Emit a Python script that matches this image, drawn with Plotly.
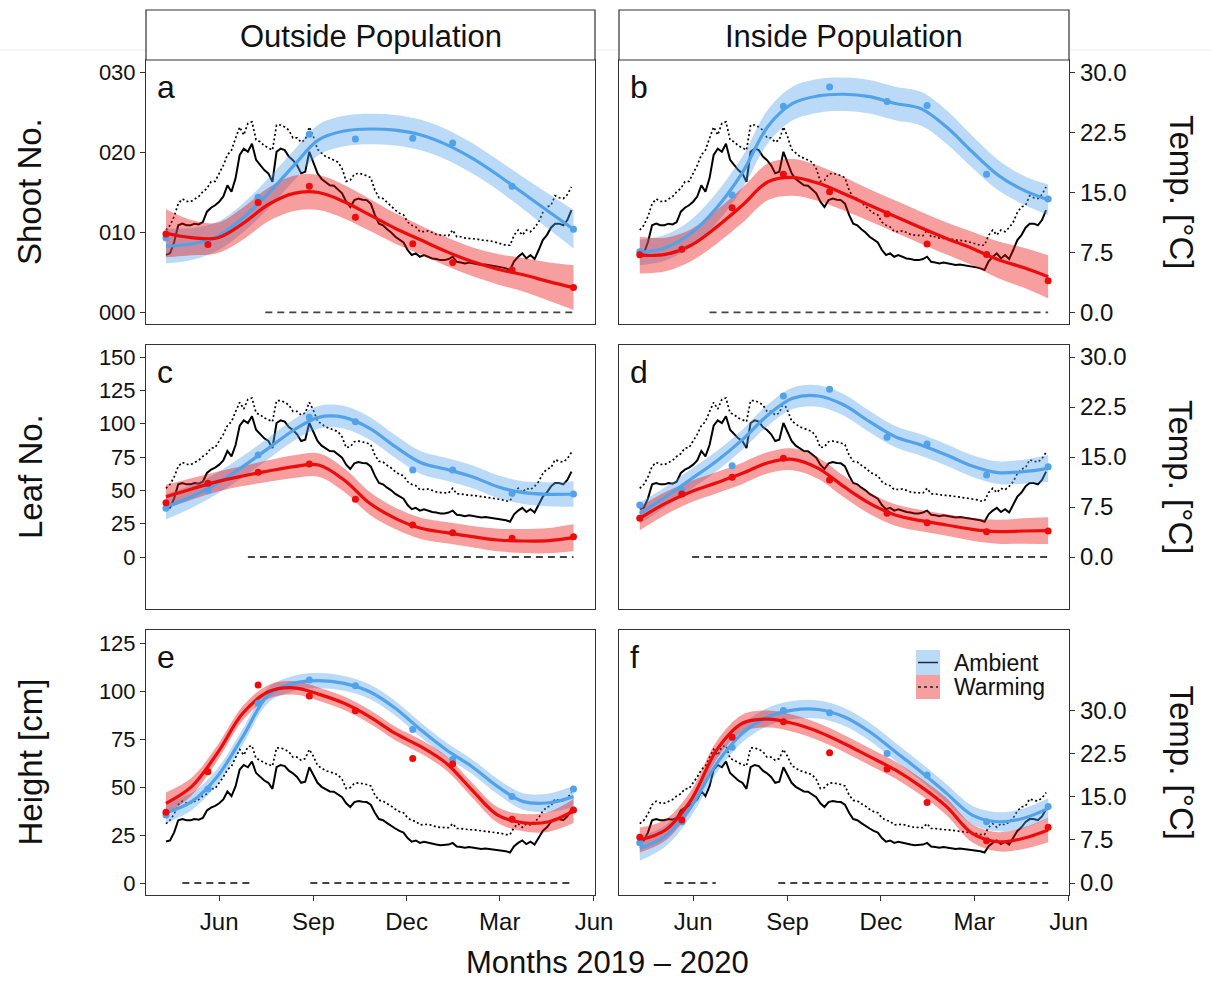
import pandas as pd
import plotly.graph_objects as go

FIG_W, FIG_H = 1212, 983
FONT = "Liberation Sans, Arial, Helvetica, sans-serif"

# ---------------------------------------------------------------- data
survey_dates = ["2019-04-10", "2019-05-21", "2019-07-09", "2019-08-28", "2019-10-12",
                "2019-12-07", "2020-01-15", "2020-03-13", "2020-05-12"]

fit_dates = ["2019-04-10", "2019-05-05", "2019-05-30", "2019-06-24", "2019-07-19",
             "2019-08-13", "2019-09-06", "2019-10-01", "2019-10-26", "2019-11-20",
             "2019-12-15", "2020-01-09", "2020-02-03", "2020-02-28", "2020-03-24",
             "2020-04-18", "2020-05-12"]

# daily mean air temperature, one value every 4 days from 2019-04-10 (°C)
temp_start = "2019-04-10"
temp_step_days = 4
ambient_temp = [7.2, 7.4, 8.8, 10.9, 11.1, 10.9, 10.9, 11.1, 11.0, 11.3,
                12.6, 13.1, 13.4, 13.85, 14.5, 15.9, 15.1, 16.8, 19.7, 20.5,
                20.1, 21.1, 19.1, 18.4, 17.8, 17.4, 16.35, 20.1, 20.5, 20.3,
                19.5, 19.05, 18.4, 17.4, 17.6, 20.1, 18.85, 17.4, 16.7, 16.35,
                15.9, 15.85, 15.4, 14.9, 13.85, 13.2, 14.05, 14.25, 14.1, 14.05,
                13.6, 12.2, 11.1, 10.9, 10.4, 10.0, 9.46, 9.05, 8.75, 7.8,
                7.18, 7.38, 6.96, 7.17, 6.96, 6.75, 6.67, 6.54, 6.54, 6.67,
                6.96, 6.33, 6.25, 6.12, 6.25, 6.12, 6.0, 5.92, 6.0, 5.92,
                5.84, 5.7, 5.63, 5.5, 5.3, 6.4, 6.96, 7.38, 6.75, 7.17,
                6.67, 7.8, 9.05, 9.67, 10.6, 11.1, 11.1, 10.9, 11.55, 12.8]
warming_temp = [10.3, 10.9, 12.0, 13.6, 14.2, 13.9, 13.85, 14.2, 14.5, 15.1,
                15.5, 16.35, 16.4, 17.4, 18.4, 19.7, 20.3, 21.8, 23.2, 22.2,
                23.65, 23.85, 21.6, 21.35, 20.85, 20.6, 20.3, 23.45, 23.45, 23.2,
                22.8, 21.85, 21.85, 21.3, 21.6, 23.2, 22.0, 20.4, 19.9, 19.5,
                19.3, 19.0, 18.8, 18.0, 16.4, 16.55, 17.3, 17.4, 17.3, 17.1,
                16.85, 15.3, 14.35, 14.25, 13.75, 13.35, 12.8, 12.4, 12.2, 11.3,
                10.9, 10.7, 10.1, 10.1, 10.2, 10.0, 9.75, 9.67, 9.67, 9.6,
                10.3, 9.46, 9.46, 9.3, 9.25, 9.25, 9.17, 9.05, 9.05, 8.96,
                8.84, 8.7, 8.6, 8.4, 8.4, 9.67, 10.3, 9.67, 10.3, 10.1,
                10.6, 11.3, 12.5, 13.2, 13.4, 14.6, 14.35, 14.25, 14.75, 15.7]

# (a) shoot number, outside population
a_amb_fit = [8.3, 8.55, 9.5, 11.8, 14.9, 18.4, 21.6, 22.7, 22.95, 22.8, 22.2, 21.0, 19.3, 17.2, 14.9, 12.6, 10.4]
a_amb_se = [2.2, 2.0, 1.8, 1.8, 1.9, 1.9, 1.9, 1.9, 1.9, 1.9, 1.9, 1.9, 1.9, 1.9, 2.0, 2.2, 2.4]
a_warm_fit = [9.9, 9.35, 9.3, 11.1, 13.5, 14.9, 15.0, 13.85, 12.2, 10.5, 9.05, 7.6, 6.35, 5.4, 4.7, 3.85, 3.1]
a_warm_se = [3.0, 2.2, 1.9, 2.0, 2.1, 2.2, 2.2, 2.1, 2.0, 1.9, 1.8, 1.8, 1.8, 1.9, 2.1, 2.4, 2.8]
a_amb_obs = [9.3, 8.6, 14.4, 22.3, 21.7, 21.8, 21.2, 15.8, 10.4]
a_warm_obs = [9.8, 8.5, 13.75, 15.8, 11.9, 8.6, 6.25, 5.3, 3.1]

# (b) shoot number, inside population
b_amb_fit = [7.5, 8.1, 9.9, 13.1, 17.5, 23.3, 26.15, 27.1, 27.3, 27.0, 26.15, 25.5, 23.2, 20.1, 17.2, 15.3, 14.1]
b_amb_se = [1.6, 1.6, 1.7, 1.9, 2.0, 2.1, 2.1, 2.1, 2.1, 2.1, 2.1, 2.1, 2.1, 2.0, 1.9, 1.8, 1.9]
b_warm_fit = [7.15, 7.25, 8.4, 10.7, 13.4, 16.35, 16.9, 16.15, 14.85, 13.4, 12.0, 10.6, 9.25, 8.0, 6.6, 5.6, 4.45]
b_warm_se = [2.3, 2.1, 2.0, 2.1, 2.2, 2.3, 2.3, 2.2, 2.1, 2.0, 2.0, 2.0, 2.0, 2.1, 2.3, 2.5, 2.7]
b_amb_obs = [7.6, 7.9, 14.7, 25.8, 28.2, 26.4, 25.9, 17.3, 14.2]
b_warm_obs = [7.2, 7.9, 13.1, 17.3, 15.1, 12.3, 8.55, 7.25, 3.95]

# (c) leaf number, outside population
c_amb_fit = [37.75, 45.25, 55.25, 67.75, 81.5, 95.25, 104.75, 104.75, 96.5, 82.75, 70.75, 65.75, 60.25, 52.75, 48.25, 47.0, 47.25]
c_amb_se = [9.5, 8.5, 8.0, 8.0, 8.0, 8.0, 8.5, 8.5, 8.5, 8.5, 8.5, 8.5, 8.5, 8.5, 8.5, 9.0, 9.5]
c_warm_fit = [45.25, 51.0, 56.5, 60.75, 64.5, 67.75, 69.0, 57.75, 40.25, 29.0, 21.5, 18.25, 15.25, 12.75, 12.0, 12.25, 14.5]
c_warm_se = [9.0, 8.0, 7.5, 7.5, 8.0, 8.5, 8.75, 8.75, 8.5, 8.0, 8.0, 8.0, 8.0, 8.5, 9.0, 9.5, 10.0]
c_amb_obs = [36.5, 50.0, 76.5, 104.75, 101.5, 65.25, 65.25, 47.75, 47.25]
c_warm_obs = [40.75, 55.25, 63.5, 69.75, 43.25, 24.0, 18.25, 14.0, 15.25]

# (d) leaf number, inside population
d_amb_fit = [32.75, 45.0, 58.5, 72.0, 88.0, 106.5, 119.0, 120.75, 114.0, 101.5, 90.25, 84.0, 76.5, 68.25, 63.25, 64.0, 66.5]
d_amb_se = [8.0, 7.5, 7.5, 7.5, 7.5, 8.0, 8.0, 8.0, 8.0, 8.0, 8.0, 8.0, 8.0, 8.0, 8.5, 9.0, 10.0]
d_warm_fit = [29.0, 40.25, 49.0, 55.75, 62.75, 70.75, 73.25, 66.5, 52.75, 40.25, 31.5, 27.25, 24.0, 20.75, 19.0, 19.5, 19.75]
d_warm_se = [9.0, 8.5, 8.0, 8.0, 8.0, 8.0, 8.25, 8.0, 8.0, 8.0, 8.0, 8.0, 8.0, 8.5, 9.0, 9.5, 10.0]
d_amb_obs = [39.0, 50.0, 68.5, 120.75, 125.75, 89.75, 84.75, 61.5, 67.75]
d_warm_obs = [29.0, 47.25, 59.75, 74.0, 57.75, 32.75, 25.75, 19.0, 19.5]

# (e) plant height, outside population
e_amb_fit = [36.6, 42.4, 55.4, 76.2, 97.9, 104.0, 105.4, 104.0, 99.6, 91.0, 79.7, 69.3, 60.6, 50.2, 42.4, 41.8, 45.0]
e_amb_se = [5.5, 4.5, 4.0, 4.0, 4.0, 4.0, 4.0, 3.9, 3.8, 3.8, 3.8, 3.8, 3.8, 4.0, 4.3, 4.8, 5.6]
e_warm_fit = [41.5, 50.2, 67.5, 88.4, 99.6, 101.7, 98.4, 93.6, 86.6, 77.9, 71.0, 62.3, 48.4, 35.4, 31.4, 31.9, 37.5]
e_warm_se = [5.6, 4.6, 4.0, 3.8, 3.6, 3.5, 3.5, 3.5, 3.5, 3.5, 3.6, 3.7, 3.8, 4.0, 4.5, 5.2, 6.3]
e_amb_obs = [35.4, 49.0, 93.6, 105.7, 102.8, 80.0, 64.4, 45.0, 49.0]
e_warm_obs = [36.8, 58.0, 103.1, 97.4, 89.7, 64.9, 62.0, 33.2, 38.0]

# (f) plant height, inside population
f_amb_fit = [18.05, 24.5, 39.8, 62.3, 78.0, 86.6, 90.1, 90.4, 86.6, 78.8, 68.4, 58.0, 46.7, 35.4, 31.9, 33.7, 38.9]
f_amb_se = [6.4, 5.5, 5.0, 4.8, 4.7, 4.7, 4.7, 4.7, 4.7, 4.7, 4.7, 4.7, 4.7, 4.8, 5.0, 5.1, 5.2]
f_warm_fit = [22.4, 27.6, 43.2, 69.3, 83.2, 85.4, 83.2, 78.8, 72.7, 65.8, 58.9, 50.2, 39.8, 25.9, 21.5, 23.3, 27.6]
f_warm_se = [6.5, 5.5, 5.0, 4.7, 4.5, 4.4, 4.4, 4.4, 4.4, 4.4, 4.4, 4.4, 4.5, 4.7, 5.0, 5.6, 6.4]
f_amb_obs = [21.0, 31.9, 70.7, 89.8, 88.7, 67.5, 56.2, 31.9, 39.8]
f_warm_obs = [23.8, 32.8, 75.9, 84.0, 67.9, 59.4, 42.0, 22.0, 29.0]

# periods with a significant treatment difference (drawn at y = 0)
a_sig = [("2019-07-16", "2020-05-12")]
b_sig = [("2019-06-17", "2020-05-12")]
c_sig = [("2019-06-29", "2020-05-12")]
d_sig = [("2019-05-31", "2020-05-12")]
e_sig = [("2019-04-26", "2019-07-04"), ("2019-08-29", "2020-05-10")]
f_sig = [("2019-05-04", "2019-06-23"), ("2019-08-23", "2020-05-12")]

panel_letters = ["a", "b", "c", "d", "e", "f"]
column_titles = ["Outside Population", "Inside Population"]
row_titles = ["Shoot No.", "Leaf No.", "Height [cm]"]
temp_title = "Temp. [°C]"
x_title = "Months 2019 \u2013 2020"
legend_labels = ["Ambient", "Warming"]

month_ticks = ["2019-06-01", "2019-09-01", "2019-12-01", "2020-03-01", "2020-06-01"]
month_labels = ["Jun", "Sep", "Dec", "Mar", "Jun"]
shoot_ticks = [0, 10, 20, 30]
shoot_labels = ["000", "010", "020", "030"]
leaf_ticks = [0, 25, 50, 75, 100, 125, 150]
height_ticks = [0, 25, 50, 75, 100, 125]
temp_ticks = [0, 7.5, 15, 22.5, 30]
temp_labels = ["0.0", "7.5", "15.0", "22.5", "30.0"]

# ---------------------------------------------------------------- styling
AMB_COLOR = "rgb(82,162,234)"
AMB_FILL = "rgba(82,162,234,0.40)"
WARM_COLOR = "rgb(236,12,12)"
WARM_FILL = "rgba(236,12,12,0.40)"
FRAME = "#333333"
TEXT = "#111111"

col_px = [(146, 595), (619, 1069)]
row_px = [(60, 324), (345, 609), (630, 895)]
row_growth_range = [(-1.46, 31.59), (-39.0, 159.0), (-6.25, 131.8)]
row_temp_scale = [1.0, 5.0, 3.0]          # growth-axis units per °C
col_date_range = [("2019-03-21 12:00", "2020-06-02 00:00"),
                  ("2019-03-20 18:00", "2020-06-01 08:00")]
row_ticks = [(shoot_ticks, shoot_labels),
             (leaf_ticks, [str(v) for v in leaf_ticks]),
             (height_ticks, [str(v) for v in height_ticks])]


def fx(px):
    return px / FIG_W


def fy(py):
    return 1 - py / FIG_H


temp_dates = pd.date_range(temp_start, periods=len(ambient_temp), freq=f"{temp_step_days}D")

panels = [
    dict(amb_fit=a_amb_fit, amb_se=a_amb_se, warm_fit=a_warm_fit, warm_se=a_warm_se,
         amb_obs=a_amb_obs, warm_obs=a_warm_obs, sig=a_sig),
    dict(amb_fit=b_amb_fit, amb_se=b_amb_se, warm_fit=b_warm_fit, warm_se=b_warm_se,
         amb_obs=b_amb_obs, warm_obs=b_warm_obs, sig=b_sig),
    dict(amb_fit=c_amb_fit, amb_se=c_amb_se, warm_fit=c_warm_fit, warm_se=c_warm_se,
         amb_obs=c_amb_obs, warm_obs=c_warm_obs, sig=c_sig),
    dict(amb_fit=d_amb_fit, amb_se=d_amb_se, warm_fit=d_warm_fit, warm_se=d_warm_se,
         amb_obs=d_amb_obs, warm_obs=d_warm_obs, sig=d_sig),
    dict(amb_fit=e_amb_fit, amb_se=e_amb_se, warm_fit=e_warm_fit, warm_se=e_warm_se,
         amb_obs=e_amb_obs, warm_obs=e_warm_obs, sig=e_sig),
    dict(amb_fit=f_amb_fit, amb_se=f_amb_se, warm_fit=f_warm_fit, warm_se=f_warm_se,
         amb_obs=f_amb_obs, warm_obs=f_warm_obs, sig=f_sig),
]

fig = go.Figure()
layout = dict(
    width=FIG_W, height=FIG_H,
    margin=dict(l=0, r=0, t=0, b=0, pad=0, autoexpand=False),
    paper_bgcolor="white", plot_bgcolor="white",
    showlegend=False,
    font=dict(family=FONT, color=TEXT),
    shapes=[], annotations=[],
)

tick_style = dict(ticks="outside", ticklen=5, tickwidth=1, tickcolor=FRAME,
                  tickfont=dict(family=FONT, size=22, color=TEXT))

for i, p in enumerate(panels):
    r, c = divmod(i, 2)
    n = i + 1
    xs, ys_t, ys_g = f"x{n}", f"y{n}", f"y{n + 6}"
    x0, x1 = col_px[c]
    y0, y1 = row_px[r]
    g_lo, g_hi = row_growth_range[r]
    k = row_temp_scale[r]

    # x axis
    xa = dict(domain=[fx(x0), fx(x1)], anchor=ys_t, type="date",
              range=list(col_date_range[c]), showgrid=False, zeroline=False,
              showline=True, mirror=True, linecolor=FRAME, linewidth=1.2)
    if r == 2:
        xa.update(tick_style, tickvals=month_ticks, ticktext=month_labels,
                  tickfont=dict(family=FONT, size=24, color=TEXT))
    else:
        xa.update(ticks="", showticklabels=False)
    layout["xaxis" if n == 1 else f"xaxis{n}"] = xa

    # base axis carries the temperature scale (right side)
    ya = dict(domain=[fy(y1), fy(y0)], anchor=xs, range=[g_lo / k, g_hi / k],
              showgrid=False, zeroline=False, showline=True, mirror=True,
              linecolor=FRAME, linewidth=1.2, side="right")
    if c == 1:
        ya.update(tick_style, tickvals=temp_ticks, ticktext=temp_labels,
                  tickfont=dict(family=FONT, size=24, color=TEXT))
    else:
        ya.update(ticks="", showticklabels=False)
    layout["yaxis" if n == 1 else f"yaxis{n}"] = ya

    # overlay axis carries the growth variable (left side)
    yg = dict(overlaying=ys_t, anchor=xs, side="left", range=[g_lo, g_hi],
              showgrid=False, zeroline=False, showline=False)
    if c == 0:
        tv, tt = row_ticks[r]
        yg.update(tick_style, tickvals=tv, ticktext=tt)
    else:
        yg.update(ticks="", showticklabels=False)
    layout[f"yaxis{n + 6}"] = yg

    # temperature records
    fig.add_trace(go.Scatter(x=temp_dates, y=ambient_temp, mode="lines",
                             line=dict(color="black", width=2.0),
                             xaxis=xs, yaxis=ys_t, hoverinfo="skip"))
    fig.add_trace(go.Scatter(x=temp_dates, y=warming_temp, mode="lines",
                             line=dict(color="black", width=1.7, dash="2px,2.5px"),
                             xaxis=xs, yaxis=ys_t, hoverinfo="skip"))

    # confidence ribbons
    for fit, se, fill in ((p["amb_fit"], p["amb_se"], AMB_FILL),
                          (p["warm_fit"], p["warm_se"], WARM_FILL)):
        lower = [v - s for v, s in zip(fit, se)]
        upper = [v + s for v, s in zip(fit, se)]
        fig.add_trace(go.Scatter(x=fit_dates, y=lower, mode="lines",
                                 line=dict(width=0, shape="spline", color=fill),
                                 xaxis=xs, yaxis=ys_g, hoverinfo="skip"))
        fig.add_trace(go.Scatter(x=fit_dates, y=upper, mode="lines", fill="tonexty",
                                 fillcolor=fill,
                                 line=dict(width=0, shape="spline", color=fill),
                                 xaxis=xs, yaxis=ys_g, hoverinfo="skip"))

    # significance periods
    for s0, s1 in p["sig"]:
        fig.add_trace(go.Scatter(x=[s0, s1], y=[0, 0], mode="lines",
                                 line=dict(color="#444444", width=1.8, dash="7px,5px"),
                                 xaxis=xs, yaxis=ys_g, hoverinfo="skip"))

    # fitted curves and observed means
    for fit, col in ((p["amb_fit"], AMB_COLOR), (p["warm_fit"], WARM_COLOR)):
        fig.add_trace(go.Scatter(x=fit_dates, y=fit, mode="lines",
                                 line=dict(color=col, width=3.2, shape="spline"),
                                 xaxis=xs, yaxis=ys_g, hoverinfo="skip"))
    for obs, col in ((p["amb_obs"], AMB_COLOR), (p["warm_obs"], WARM_COLOR)):
        fig.add_trace(go.Scatter(x=survey_dates, y=obs, mode="markers",
                                 marker=dict(color=col, size=7),
                                 xaxis=xs, yaxis=ys_g, hoverinfo="skip"))

    # panel letter
    layout["annotations"].append(dict(
        text=panel_letters[i], xref="paper", yref="paper",
        x=fx(x0 + 9), y=fy(y0 + 27), xanchor="left", yanchor="middle",
        showarrow=False, font=dict(family=FONT, size=32, color=TEXT)))

# faint page rule behind the strips
layout["shapes"].append(dict(type="line", xref="paper", yref="paper",
                             x0=0, x1=1, y0=fy(50), y1=fy(50),
                             line=dict(color="#eeeeee", width=1), layer="below"))

# column strips
for c, title in enumerate(column_titles):
    x0, x1 = col_px[c]
    layout["shapes"].append(dict(type="rect", xref="paper", yref="paper",
                                 x0=fx(x0), x1=fx(x1), y0=fy(60), y1=fy(10),
                                 line=dict(color=FRAME, width=1.2), fillcolor="white"))
    layout["annotations"].append(dict(
        text=title, xref="paper", yref="paper", x=fx((x0 + x1) / 2), y=fy(36),
        xanchor="center", yanchor="middle", showarrow=False,
        font=dict(family=FONT, size=31, color=TEXT)))

# axis titles
for r, title in enumerate(row_titles):
    yc = (row_px[r][0] + row_px[r][1]) / 2
    layout["annotations"].append(dict(
        text=title, xref="paper", yref="paper", x=fx(30), y=fy(yc),
        xanchor="center", yanchor="middle", textangle=-90, showarrow=False,
        font=dict(family=FONT, size=33, color=TEXT)))
    layout["annotations"].append(dict(
        text=temp_title, xref="paper", yref="paper", x=fx(1181), y=fy(yc),
        xanchor="center", yanchor="middle", textangle=90, showarrow=False,
        font=dict(family=FONT, size=33, color=TEXT)))

layout["annotations"].append(dict(
    text=x_title, xref="paper", yref="paper", x=fx(607), y=fy(982),
    xanchor="center", yanchor="bottom", showarrow=False,
    font=dict(family=FONT, size=31, color=TEXT)))

# legend inside panel f
key_x0, key_x1 = 916, 940
for label, fill, dash, ky0, ky1 in (
        (legend_labels[0], AMB_FILL, "solid", 650, 675),
        (legend_labels[1], WARM_FILL, "dot", 675, 699)):
    layout["shapes"].append(dict(type="rect", xref="paper", yref="paper",
                                 x0=fx(key_x0), x1=fx(key_x1), y0=fy(ky1), y1=fy(ky0),
                                 line=dict(width=0), fillcolor=fill))
    ym = (ky0 + ky1) / 2
    layout["shapes"].append(dict(type="line", xref="paper", yref="paper",
                                 x0=fx(key_x0 + 2), x1=fx(key_x1 - 2), y0=fy(ym), y1=fy(ym),
                                 line=dict(color="#1c2a44" if dash == "solid" else "#222222",
                                           width=1.5, dash=dash)))
    layout["annotations"].append(dict(
        text=label, xref="paper", yref="paper", x=fx(952), y=fy(ym),
        xanchor="left", yanchor="middle", showarrow=False,
        font=dict(family=FONT, size=23, color=TEXT)))

fig.update_layout(**layout)
fig.write_html("out.html")
